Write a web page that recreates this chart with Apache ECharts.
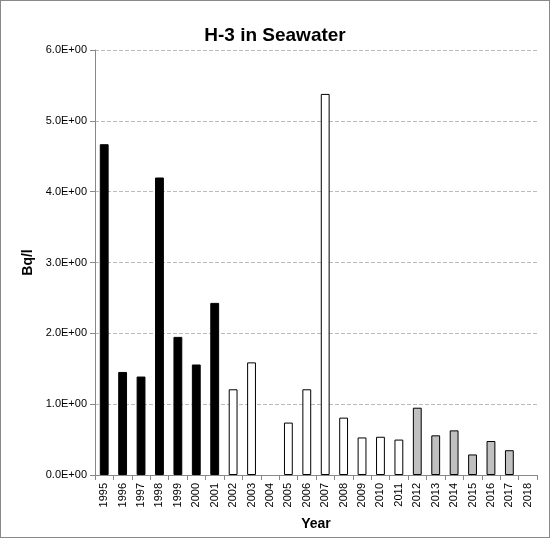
<!DOCTYPE html><html><head><meta charset="utf-8"><script src="https://cdn.jsdelivr.net/npm/echarts@6/dist/echarts.min.js"></script>
<style>html,body{margin:0;padding:0}#c{width:548px;height:536px;border:1px solid #888}</style></head><body><div id="c"></div><script>
const years=['1995','1996','1997','1998','1999','2000','2001','2002','2003','2004','2005','2006','2007','2008','2009','2010','2011','2012','2013','2014','2015','2016','2017','2018'];
const values=[4.67,1.455,1.39,4.20,1.95,1.56,2.43,1.21,1.59,null,0.74,1.21,5.38,0.81,0.53,0.54,0.50,0.95,0.56,0.63,0.29,0.48,0.35,null];
const groups=['b','b','b','b','b','b','b','w','w','w','w','w','w','w','w','w','w','g','g','g','g','g','g','g'];
const fills={b:'#000000',w:'#ffffff',g:'#c0c0c0'};
const ch=echarts.init(document.getElementById('c'));
ch.setOption({animation:false,
title:{text:'H-3 in Seawater',left:'center',top:20,textStyle:{fontFamily:'Liberation Sans',fontSize:19,fontWeight:'bold',color:'#000'}},
grid:{left:94,right:12,top:49,bottom:62},
xAxis:{type:'category',data:years,name:'Year',nameLocation:'middle',nameGap:42,nameTextStyle:{fontFamily:'Liberation Sans',fontSize:14,fontWeight:'bold',color:'#000'},
axisLine:{lineStyle:{color:'#888'}},axisTick:{show:true,lineStyle:{color:'#888'}},axisLabel:{rotate:90,interval:0,fontFamily:'Liberation Sans',fontSize:11,color:'#000'}},
yAxis:{type:'value',min:0,max:6,interval:1,name:'Bq/l',nameLocation:'middle',nameGap:58,nameTextStyle:{fontFamily:'Liberation Sans',fontSize:14,fontWeight:'bold',color:'#000'},
axisLine:{show:true,lineStyle:{color:'#888'}},axisTick:{show:true,lineStyle:{color:'#888'}},
axisLabel:{formatter:v=>v.toFixed(1)+'E+00',fontFamily:'Liberation Sans',fontSize:11,color:'#000'},
splitLine:{lineStyle:{color:'#bbb',type:'dashed'}}},
series:[{type:'bar',barWidth:'48%',data:values.map((v,i)=>({value:v,itemStyle:{color:fills[groups[i]],borderColor:'#000',borderWidth:1}}))}]
});
</script></body></html>
